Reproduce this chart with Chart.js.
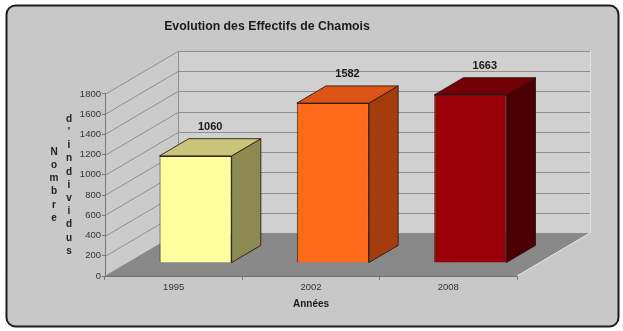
<!DOCTYPE html>
<html>
<head>
<meta charset="utf-8">
<title>Evolution des Effectifs de Chamois</title>
<script src="https://cdn.jsdelivr.net/npm/chart.js@4.4.0/dist/chart.umd.min.js"></script>
<style>
  body { margin: 0; background: #fff; }
  #wrap { width: 623px; height: 331px; }
</style>
</head>
<body>
<div id="wrap"><canvas id="chamois" width="623" height="331"></canvas></div>
<script>
// données
const annees = ['1995', '2002', '2008'];
const effectifs = [1060, 1582, 1663];
const yMax = 1800;
const yPas = 200;

// couleurs des barres : face avant, côté, dessus
const faces = ['#ffffa0', '#ff6a1a', '#990008'];
const cotes = ['#8c8953', '#a43c0e', '#4c0004'];
const dessus = ['#c9c47a', '#dc5416', '#720006'];

// profondeur de la perspective (sol entier) et position des barres dans cette profondeur
const prof = { dx: 73, dy: -43 };
const barAvant = 0.3, barArriere = 0.7;

const fond = {
  id: 'fond',
  beforeDraw(chart) {
    const ctx = chart.ctx;
    const a = chart.chartArea;
    const ys = chart.scales.y;

    ctx.save();
    ctx.fillStyle = '#fff';
    ctx.fillRect(0, 0, chart.width, chart.height);

    // cadre arrondi
    ctx.beginPath();
    ctx.roundRect(6.5, 5.5, 612, 321, 9);
    ctx.fillStyle = '#c8c8c8';
    ctx.fill();
    ctx.lineWidth = 2;
    ctx.strokeStyle = '#1c1c1c';
    ctx.stroke();

    const L = a.left, R = a.right, T = a.top, B = a.bottom;
    const dx = prof.dx, dy = prof.dy;

    // mur du fond
    ctx.fillStyle = '#d0d0d0';
    ctx.fillRect(L + dx, T + dy, R - L, B - T);
    ctx.strokeStyle = '#e2e2e2';
    ctx.lineWidth = 1;
    ctx.beginPath();
    ctx.moveTo(R + dx + 0.5, T + dy);
    ctx.lineTo(R + dx + 0.5, B + dy);
    ctx.stroke();

    // mur de gauche
    ctx.fillStyle = '#cbcbcb';
    ctx.beginPath();
    ctx.moveTo(L, B);
    ctx.lineTo(L, T);
    ctx.lineTo(L + dx, T + dy);
    ctx.lineTo(L + dx, B + dy);
    ctx.closePath();
    ctx.fill();

    // quadrillage
    ctx.strokeStyle = '#8e8e8e';
    ctx.lineWidth = 1;
    ys.ticks.forEach(t => {
      const y = Math.round(ys.getPixelForValue(t.value)) + 0.5;
      ctx.beginPath();
      ctx.moveTo(L, y);
      ctx.lineTo(L + dx, y + dy);
      ctx.lineTo(R + dx, y + dy);
      ctx.stroke();
    });
    ctx.beginPath();
    ctx.moveTo(L + dx + 0.5, T + dy);
    ctx.lineTo(L + dx + 0.5, B + dy);
    ctx.stroke();

    // sol
    ctx.fillStyle = '#898989';
    ctx.beginPath();
    ctx.moveTo(L, B);
    ctx.lineTo(R, B);
    ctx.lineTo(R + dx, B + dy);
    ctx.lineTo(L + dx, B + dy);
    ctx.closePath();
    ctx.fill();
    ctx.strokeStyle = '#eaeaea';
    ctx.beginPath();
    ctx.moveTo(R, B);
    ctx.lineTo(R + dx, B + dy);
    ctx.stroke();

    // titre vertical de l'axe des ordonnées, lettre par lettre
    ctx.fillStyle = '#222';
    ctx.font = 'bold 10px "Liberation Sans", Arial, sans-serif';
    ctx.textAlign = 'center';
    ctx.textBaseline = 'middle';
    const milieu = (T + B) / 2;
    const pas = 13.2;
    [['Nombre', 54], ["d'individus", 69]].forEach(([mot, x]) => {
      const lettres = mot.split('');
      const y0 = milieu - (lettres.length - 1) * pas / 2;
      lettres.forEach((c, i) => ctx.fillText(c, x, y0 + i * pas));
    });
    ctx.restore();
  },
  beforeDatasetsDraw(chart) {
    // les faces avant sont dessinées à mi-profondeur
    chart.ctx.save();
    chart.ctx.translate(prof.dx * barAvant, prof.dy * barAvant);
  },
  afterDatasetsDraw(chart) {
    const ctx = chart.ctx;
    ctx.restore();
    const ox = prof.dx * barAvant, oy = prof.dy * barAvant;
    const ddx = prof.dx * (barArriere - barAvant), ddy = prof.dy * (barArriere - barAvant);
    const meta = chart.getDatasetMeta(0);

    ctx.save();
    ctx.lineWidth = 1;
    ctx.lineJoin = 'round';
    meta.data.forEach((bar, i) => {
      const g = bar.x - bar.width / 2 + ox;
      const d = bar.x + bar.width / 2 + ox;
      const h = bar.y + oy;
      const b = bar.base + oy;
      ctx.strokeStyle = 'rgba(40,20,10,0.85)';

      // côté droit
      ctx.fillStyle = cotes[i];
      ctx.beginPath();
      ctx.moveTo(d, h);
      ctx.lineTo(d + ddx, h + ddy);
      ctx.lineTo(d + ddx, b + ddy);
      ctx.lineTo(d, b);
      ctx.closePath();
      ctx.fill();
      ctx.stroke();

      // dessus
      ctx.fillStyle = dessus[i];
      ctx.beginPath();
      ctx.moveTo(g, h);
      ctx.lineTo(g + ddx, h + ddy);
      ctx.lineTo(d + ddx, h + ddy);
      ctx.lineTo(d, h);
      ctx.closePath();
      ctx.fill();
      ctx.stroke();

      // valeur au-dessus de la barre
      ctx.fillStyle = '#1a1a1a';
      ctx.font = 'bold 11px "Liberation Sans", Arial, sans-serif';
      ctx.textAlign = 'center';
      ctx.textBaseline = 'middle';
      ctx.fillText(String(effectifs[i]), (g + d) / 2 + ddx / 2, h + ddy - 12);
    });
    ctx.restore();
  }
};

new Chart(document.getElementById('chamois'), {
  type: 'bar',
  data: {
    labels: annees,
    datasets: [{
      data: effectifs,
      backgroundColor: faces,
      borderColor: 'rgba(40,20,10,0.85)',
      borderWidth: 1,
      categoryPercentage: 1,
      barPercentage: 0.525,
      clip: false
    }]
  },
  options: {
    responsive: false,
    animation: false,
    layout: { padding: { top: 10, left: 17, right: 106, bottom: 0 } },
    plugins: {
      legend: { display: false },
      tooltip: { enabled: false },
      title: {
        display: true,
        text: 'Evolution des Effectifs de Chamois',
        color: '#1a1a1a',
        font: { family: '"Liberation Sans", Arial, sans-serif', size: 12.3, weight: 'bold' },
        padding: { top: 9, bottom: 60.2 }
      }
    },
    scales: {
      x: {
        afterFit(scale) { scale.height = 55; },
        grid: { display: true, drawOnChartArea: false, offset: true, tickLength: 4, color: '#777' },
        border: { display: true, color: '#6e6e6e' },
        ticks: {
          padding: 2,
          color: '#333',
          font: { family: '"Liberation Sans", Arial, sans-serif', size: 9.5 }
        },
        title: {
          display: true,
          text: 'Années',
          color: '#1a1a1a',
          font: { family: '"Liberation Sans", Arial, sans-serif', size: 10, weight: 'bold' },
          padding: { top: 0, bottom: 21 }
        }
      },
      y: {
        min: 0,
        max: yMax,
        afterFit(scale) { scale.width = 88; },
        grid: { display: true, drawOnChartArea: false, tickLength: 3, color: '#777' },
        border: { display: true, color: '#777' },
        ticks: {
          stepSize: yPas,
          padding: 1,
          color: '#333',
          callback: v => String(v),
          font: { family: '"Liberation Sans", Arial, sans-serif', size: 9.5 }
        }
      }
    }
  },
  plugins: [fond]
});
</script>
</body>
</html>
